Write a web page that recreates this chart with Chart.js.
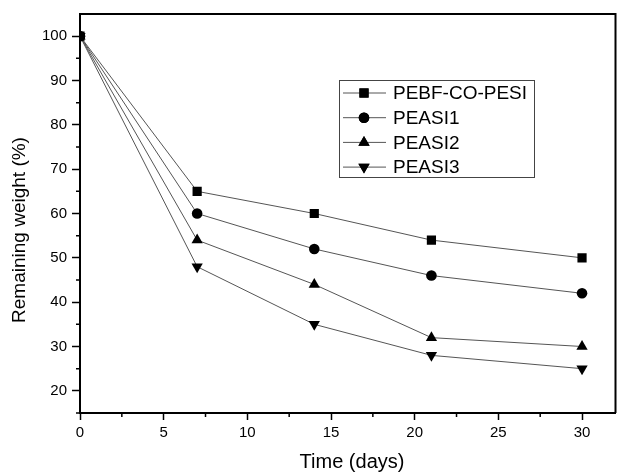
<!DOCTYPE html>
<html>
<head>
<meta charset="utf-8">
<script src="https://cdn.jsdelivr.net/npm/chart.js@4/dist/chart.umd.min.js"></script>
<style>
  html,body{margin:0;padding:0;background:#fff}
  #wrap{width:622px;height:472px;position:relative}
</style>
</head>
<body>
<div id="wrap"><canvas id="c"></canvas></div>
<script>
// data
const days       = [0, 7, 14, 21, 30];
const pebfCoPesi = [100, 65, 60, 54, 50];
const peasi1     = [100, 60, 52, 46, 42];
const peasi2     = [100, 54, 44, 32, 30];
const peasi3     = [100, 48, 35, 28, 25];
const seriesNames = ['PEBF-CO-PESI', 'PEASI1', 'PEASI2', 'PEASI3'];
const xTicks = [0, 5, 10, 15, 20, 25, 30];
const yTicks = [20, 30, 40, 50, 60, 70, 80, 90, 100];
const xTitle = 'Time (days)';
const yTitle = 'Remaining weight (%)';

const FONT = '"Liberation Sans", Arial, sans-serif';
const LINE = '#555';

const styles = [
  {pointStyle:'rect', radius:6.5, rotation:0},
  {pointStyle:'circle', radius:5.3, rotation:0},
  {pointStyle:'triangle', radius:6.5, rotation:0},
  {pointStyle:'triangle', radius:6.5, rotation:180}
];

function pts(vals){ return days.map((d,i)=>({x:d, y:vals[i]})); }
const allVals = [pebfCoPesi, peasi1, peasi2, peasi3];

const datasets = allVals.map((v,i)=>({
  label: seriesNames[i],
  data: pts(v),
  borderColor: LINE,
  borderWidth: 1,
  backgroundColor: '#000',
  pointBackgroundColor: '#000',
  pointBorderColor: '#000',
  pointBorderWidth: 0,
  pointStyle: styles[i].pointStyle,
  pointRadius: styles[i].radius,
  pointRotation: styles[i].rotation,
  tension: 0
}));

// frame, minor ticks, axis titles and the boxed legend
const extras = {
  id: 'extras',
  afterDraw(chart){
    const {ctx, chartArea:a, scales:{x, y}} = chart;
    ctx.save();
    ctx.strokeStyle = '#000';
    ctx.lineWidth = 2;
    ctx.beginPath();
    ctx.moveTo(a.left, a.top); ctx.lineTo(a.right, a.top);
    ctx.lineTo(a.right, a.bottom);
    ctx.stroke();
    // minor ticks
    ctx.lineWidth = 1.5;
    ctx.beginPath();
    for(let v=2.5; v<32; v+=5){
      const px = x.getPixelForValue(v);
      ctx.moveTo(px, a.bottom); ctx.lineTo(px, a.bottom+4);
    }
    for(let v=15; v<=95; v+=10){
      const py = y.getPixelForValue(v);
      ctx.moveTo(a.left, py); ctx.lineTo(a.left-4, py);
    }
    ctx.stroke();

    // axis titles
    ctx.fillStyle = '#000';
    ctx.font = '20px ' + FONT;
    ctx.textAlign = 'center';
    ctx.textBaseline = 'middle';
    ctx.fillText(xTitle, 352, 462);
    ctx.save();
    ctx.translate(20, 230);
    ctx.rotate(-Math.PI/2);
    ctx.font = '19px ' + FONT;
    ctx.fillText(yTitle, 0, 0);
    ctx.restore();

    // legend
    const lx = 339, ly = 80, lw = 195, lh = 97;
    ctx.lineWidth = 1;
    ctx.strokeStyle = '#444';
    ctx.strokeRect(lx+0.5, ly+0.5, lw, lh);
    ctx.font = '19px ' + FONT;
    ctx.textAlign = 'left';
    chart.data.datasets.forEach((ds,i)=>{
      const ry = 93 + i*24.7;
      ctx.strokeStyle = LINE;
      ctx.beginPath(); ctx.moveTo(343, ry); ctx.lineTo(386, ry); ctx.stroke();
      Chart.helpers.drawPoint(ctx, {pointStyle:ds.pointStyle, rotation:ds.pointRotation,
        radius:ds.pointRadius, borderWidth:0}, 364, ry);
      ctx.fillStyle = '#000';
      ctx.fill();
      ctx.fillText(ds.label, 393, ry+1);
    });
    ctx.restore();
  }
};

new Chart(document.getElementById('c'), {
  type: 'line',
  data: {datasets},
  plugins: [extras],
  options: {
    responsive: true,
    maintainAspectRatio: false,
    animation: false,
    layout: {padding: {left:0, top:14, right:2, bottom:0}},
    plugins: {legend:{display:false}, tooltip:{enabled:false}},
    scales: {
      x: {
        type: 'linear', min: 0, max: 32,
        afterBuildTicks: s => { s.ticks = xTicks.map(v=>({value:v})); },
        afterFit: s => { s.height = 59; },
        grid: {drawOnChartArea:false, drawTicks:true, tickLength:7, tickWidth:1.5, tickColor:'#000'},
        border: {display:true, color:'#000', width:2},
        ticks: {color:'#000', font:{family:FONT, size:15}, padding:4, maxRotation:0}
      },
      y: {
        min: 15, max: 105,
        afterBuildTicks: s => { s.ticks = yTicks.map(v=>({value:v})); },
        afterFit: s => { s.width = 80; },
        grid: {drawOnChartArea:false, drawTicks:true, tickLength:8, tickWidth:1.5, tickColor:'#000'},
        border: {display:true, color:'#000', width:2},
        ticks: {color:'#000', font:{family:FONT, size:15}, padding:5}
      }
    }
  }
});
</script>
</body>
</html>
